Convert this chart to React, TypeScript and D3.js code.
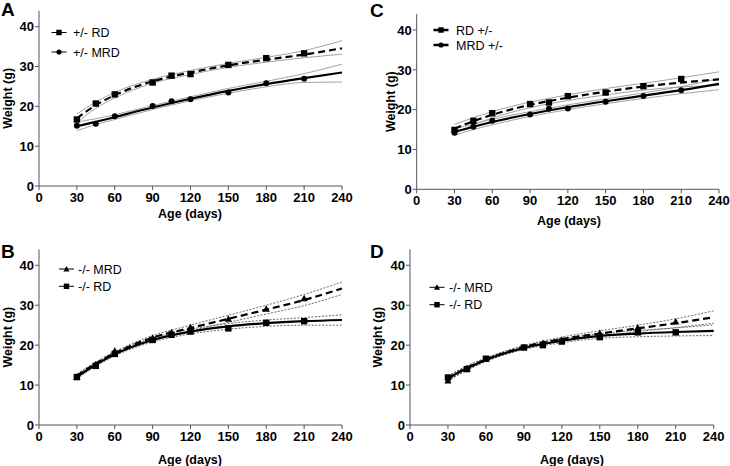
import React from "react";
import * as d3 from "d3";

const ages = [30, 45, 60, 90, 105, 120, 150, 180, 210];
const fitAges = [30, 45, 60, 90, 120, 150, 180, 210, 240];
const xTicks = [0, 30, 60, 90, 120, 150, 180, 210, 240];
const yTicks = [0, 10, 20, 30, 40];

// Panel A
const aRD = [16.7, 20.7, 23.0, 26.0, 27.7, 28.1, 30.4, 32.1, 33.3];
const aMRD = [15.1, 15.6, 17.5, 20.1, 21.3, 21.8, 23.5, 25.8, 26.9];
const aRDFit = [17.0, 20.3, 22.8, 26.3, 28.5, 30.3, 31.7, 33.0, 34.6];
const aRDUpper = [18.1, 21.1, 23.5, 26.8, 29.0, 30.8, 32.3, 34.0, 36.5];
const aRDLower = [15.9, 19.5, 22.1, 25.8, 28.0, 29.8, 31.1, 32.2, 33.1];
const aMRDFit = [15.0, 16.1, 17.3, 19.7, 21.9, 23.9, 25.6, 27.1, 28.5];
const aMRDUpper = [16.1, 16.9, 17.9, 20.2, 22.4, 24.5, 26.3, 28.2, 30.6];
const aMRDLower = [13.9, 15.4, 16.7, 19.2, 21.4, 23.3, 24.9, 26.0, 26.1];

// Panel C
const cRD = [14.9, 17.2, 19.1, 21.4, 21.8, 23.4, 24.3, 25.9, 27.7];
const cMRD = [14.2, 15.7, 17.2, 18.8, 20.2, 20.3, 22.0, 23.4, 24.9];
const cRDFit = [15.2, 17.1, 18.7, 21.2, 23.0, 24.5, 25.8, 26.8, 27.6];
const cRDUpper = [16.3, 18.0, 19.5, 21.9, 23.7, 25.3, 26.6, 28.0, 29.5];
const cRDLower = [14.1, 16.2, 17.9, 20.5, 22.3, 23.7, 24.9, 25.7, 26.1];
const cMRDFit = [14.4, 15.7, 16.9, 18.9, 20.6, 22.1, 23.5, 24.9, 26.5];
const cMRDUpper = [15.2, 16.4, 17.6, 19.5, 21.2, 22.7, 24.2, 25.8, 27.8];
const cMRDLower = [13.6, 15.0, 16.2, 18.3, 20.0, 21.5, 22.8, 24.0, 25.0];

// Panel B
const bMRD = [12.0, 15.2, 18.6, 21.8, 23.2, 24.5, 26.6, 29.1, 31.7];
const bRD = [12.0, 14.8, 17.8, 21.3, 22.6, 23.4, 24.2, 25.6, 26.0];
const bMRDFit = [12.3, 15.4, 18.0, 21.9, 24.3, 26.6, 28.9, 31.3, 34.2];
const bMRDUpper = [12.8, 15.8, 18.4, 22.4, 25.0, 27.5, 30.0, 32.7, 35.8];
const bMRDLower = [11.8, 15.0, 17.6, 21.4, 23.6, 25.7, 27.8, 29.9, 32.7];
const bRDFit = [12.1, 15.1, 17.7, 21.3, 23.4, 24.7, 25.5, 26.0, 26.3];
const bRDUpper = [12.6, 15.5, 18.1, 21.8, 24.0, 25.4, 26.3, 26.9, 27.6];
const bRDLower = [11.6, 14.7, 17.3, 20.8, 22.8, 24.0, 24.7, 25.0, 25.0];

// Panel D
const dMRD = [11.1, 14.2, 16.5, 19.5, 20.5, 21.3, 23.0, 24.4, 25.9];
const dRD = [11.9, 14.0, 16.6, 19.4, 20.0, 20.9, 22.0, 23.2, 23.2];
const dMRDFit = [11.6, 14.3, 16.4, 19.5, 21.5, 22.9, 24.2, 25.5, 27.0];
const dMRDUpper = [12.2, 14.8, 16.8, 19.9, 22.0, 23.6, 25.0, 26.6, 28.6];
const dMRDLower = [11.0, 13.8, 16.0, 19.1, 21.0, 22.2, 23.4, 24.4, 25.5];
const dRDFit = [11.7, 14.2, 16.3, 19.3, 21.1, 22.3, 22.9, 23.3, 23.6];
const dRDUpper = [12.3, 14.7, 16.7, 19.7, 21.6, 22.9, 23.7, 24.3, 25.1];
const dRDLower = [11.1, 13.7, 15.9, 18.9, 20.6, 21.7, 22.1, 22.3, 22.4];

type Marker = "square" | "circle" | "triangle";
interface Series {
  label: string;
  marker: Marker;
  points: number[];
  fit: number[];
  upper: number[];
  lower: number[];
  dashed: boolean;
}

interface PanelProps {
  letter: string;
  letterX: number;
  letterY: number;
  x0: number;
  x1: number;
  y0: number;
  yTop: number;
  series: Series[];
  ciStyle: "solid" | "dotted";
  legendX: number;
  legendY: number[];
  legendTextX: number;
  legendLineW: number;
  legendThick: boolean;
  xLabelX: number;
  xLabelY: number;
  yLabelX: number;
}

const FONT = "'Liberation Sans', Arial, sans-serif";

function MarkerShape({ type, x, y, s = 1 }: { type: Marker; x: number; y: number; s?: number }) {
  if (type === "square") return <rect x={x - 3.2 * s} y={y - 3.2 * s} width={6.4 * s} height={6.4 * s} fill="#000" />;
  if (type === "circle") return <circle cx={x} cy={y} r={3 * s} fill="#000" />;
  const h = 3.6 * s;
  return <path d={`M${x},${y - h}L${x + h},${y + h * 0.8}L${x - h},${y + h * 0.8}Z`} fill="#000" />;
}

function Panel(p: PanelProps) {
  const x = d3.scaleLinear().domain([0, 240]).range([p.x0, p.x1]);
  const y = d3.scaleLinear().domain([0, 40]).range([p.y0, p.yTop]);
  const yMax = 44;
  const line = (vals: number[]) =>
    d3
      .line<number>()
      .x((_, i) => x(fitAges[i]))
      .y((v) => y(v))
      .curve(d3.curveMonotoneX)(vals) || "";
  const axisColor = "#555";
  return (
    <g>
      <text x={p.letterX} y={p.letterY} fontFamily={FONT} fontWeight="bold" fontSize={19}>
        {p.letter}
      </text>
      {p.series.map((s, i) => (
        <g key={"ci" + i}>
          {[s.upper, s.lower].map((arr, j) => (
            <path
              key={j}
              d={line(arr)}
              fill="none"
              stroke={p.ciStyle === "solid" ? "#999" : "#444"}
              strokeWidth={p.ciStyle === "solid" ? 0.9 : 0.8}
              strokeDasharray={p.ciStyle === "solid" ? undefined : "2,1.5"}
            />
          ))}
        </g>
      ))}
      {p.series.map((s, i) => (
        <path
          key={"fit" + i}
          d={line(s.fit)}
          fill="none"
          stroke="#000"
          strokeWidth={2.2}
          strokeDasharray={s.dashed ? "7,4" : undefined}
        />
      ))}
      {p.series.map((s, i) => (
        <g key={"pts" + i}>
          {s.points.map((v, j) => (
            <MarkerShape key={j} type={s.marker} x={x(ages[j])} y={y(v)} />
          ))}
        </g>
      ))}
      <line x1={p.x0} x2={p.x0} y1={y(yMax)} y2={p.y0} stroke={axisColor} strokeWidth={1} />
      <line x1={p.x0} x2={p.x1} y1={p.y0} y2={p.y0} stroke={axisColor} strokeWidth={1} />
      {yTicks.map((t) => (
        <g key={"yt" + t}>
          <line x1={p.x0 - 4} x2={p.x0} y1={y(t)} y2={y(t)} stroke={axisColor} />
          <text
            x={p.x0 - 5}
            y={y(t)}
            dy="0.36em"
            textAnchor="end"
            fontFamily={FONT}
            fontWeight="bold"
            fontSize={13}
          >
            {t}
          </text>
        </g>
      ))}
      {xTicks.map((t) => (
        <g key={"xt" + t}>
          <line x1={x(t)} x2={x(t)} y1={p.y0} y2={p.y0 + 4} stroke={axisColor} />
          <text
            x={x(t)}
            y={p.y0 + 15.5}
            textAnchor="middle"
            fontFamily={FONT}
            fontWeight="bold"
            fontSize={13}
          >
            {t}
          </text>
        </g>
      ))}
      <text
        x={p.xLabelX}
        y={p.xLabelY}
        textAnchor="middle"
        fontFamily={FONT}
        fontWeight="bold"
        fontSize={12.5}
      >
        Age (days)
      </text>
      <text
        transform={`translate(${p.yLabelX},${(y(yMax) + p.y0) / 2}) rotate(-90)`}
        textAnchor="middle"
        dy="0.35em"
        fontFamily={FONT}
        fontWeight="bold"
        fontSize={12.5}
      >
        Weight (g)
      </text>
      {p.series.map((s, i) => (
        <g key={"lg" + i}>
          <line
            x1={p.legendX - p.legendLineW / 2}
            x2={p.legendX + p.legendLineW / 2}
            y1={p.legendY[i]}
            y2={p.legendY[i]}
            stroke="#000"
            strokeWidth={p.legendThick ? 2.5 : 1}
          />
          <MarkerShape type={s.marker} x={p.legendX} y={p.legendY[i]} s={0.85} />
          <text x={p.legendTextX} y={p.legendY[i]} dy="0.36em" fontFamily={FONT} fontSize={12.5}>
            {s.label}
          </text>
        </g>
      ))}
    </g>
  );
}

export default function App() {
  return (
    <svg
      width={730}
      height={466}
      style={{ position: "absolute", left: 0, top: 0, background: "#fff" }}
    >
      <rect width={730} height={466} fill="#fff" />
      <Panel
        letter="A"
        letterX={1}
        letterY={16}
        x0={39}
        x1={342}
        y0={186}
        yTop={26.7}
        ciStyle="solid"
        series={[
          { label: "+/- RD", marker: "square", points: aRD, fit: aRDFit, upper: aRDUpper, lower: aRDLower, dashed: true },
          { label: "+/- MRD", marker: "circle", points: aMRD, fit: aMRDFit, upper: aMRDUpper, lower: aMRDLower, dashed: false },
        ]}
        legendX={59}
        legendY={[32.5, 52]}
        legendTextX={73}
        legendLineW={15}
        legendThick={false}
        xLabelX={190}
        xLabelY={218}
        yLabelX={8}
      />
      <Panel
        letter="C"
        letterX={370}
        letterY={17}
        x0={416.7}
        x1={719}
        y0={189.3}
        yTop={30}
        ciStyle="solid"
        series={[
          { label: "RD +/-", marker: "square", points: cRD, fit: cRDFit, upper: cRDUpper, lower: cRDLower, dashed: true },
          { label: "MRD +/-", marker: "circle", points: cMRD, fit: cMRDFit, upper: cMRDUpper, lower: cMRDLower, dashed: false },
        ]}
        legendX={441}
        legendY={[30, 45]}
        legendTextX={456}
        legendLineW={15}
        legendThick={true}
        xLabelX={569}
        xLabelY={225}
        yLabelX={391}
      />
      <Panel
        letter="B"
        letterX={1}
        letterY={258}
        x0={39}
        x1={342}
        y0={425}
        yTop={265.3}
        ciStyle="dotted"
        series={[
          { label: "-/- MRD", marker: "triangle", points: bMRD, fit: bMRDFit, upper: bMRDUpper, lower: bMRDLower, dashed: true },
          { label: "-/- RD", marker: "square", points: bRD, fit: bRDFit, upper: bRDUpper, lower: bRDLower, dashed: false },
        ]}
        legendX={66.5}
        legendY={[269, 286.3]}
        legendTextX={78}
        legendLineW={15}
        legendThick={false}
        xLabelX={190}
        xLabelY={464}
        yLabelX={8}
      />
      <Panel
        letter="D"
        letterX={370}
        letterY={258}
        x0={410}
        x1={713.7}
        y0={425}
        yTop={265.3}
        ciStyle="dotted"
        series={[
          { label: "-/- MRD", marker: "triangle", points: dMRD, fit: dMRDFit, upper: dMRDUpper, lower: dMRDLower, dashed: true },
          { label: "-/- RD", marker: "square", points: dRD, fit: dRDFit, upper: dRDUpper, lower: dRDLower, dashed: false },
        ]}
        legendX={437}
        legendY={[287.3, 304.7]}
        legendTextX={449}
        legendLineW={15}
        legendThick={false}
        xLabelX={572}
        xLabelY={464}
        yLabelX={378}
      />
    </svg>
  );
}
